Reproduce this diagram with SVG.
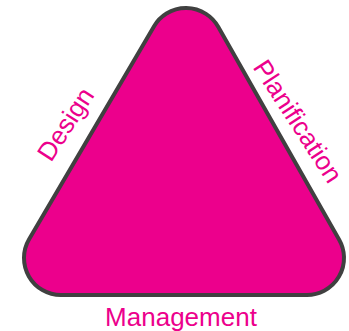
<svg xmlns="http://www.w3.org/2000/svg" width="349" height="331" viewBox="0 0 349 331">
<style>
.tri{fill:#EC008C;stroke:#404040;stroke-width:4;stroke-linejoin:round}
.lbl{fill:#EC008C;font-family:"Liberation Sans",Arial,sans-serif;font-size:26px;text-anchor:middle}
</style>
<rect width="349" height="331" fill="#FFFFFF"/>
<g id="triangle">
<path class="tri" d="M29.09,239.27 L154.09,26.27 A37,37 0 0 1 218.17,26.73 L339.17,239.73 A37,37 0 0 1 307,295 L61,295 A37,37 0 0 1 29.09,239.27 Z"/>
</g>
<g id="design"><text class="lbl" transform="translate(73,129) rotate(-57)">Design</text></g>
<g id="planification"><text class="lbl" transform="translate(290.5,126) rotate(57)">Planification</text></g>
<g id="management"><text class="lbl" x="181" y="326">Management</text></g>
</svg>
